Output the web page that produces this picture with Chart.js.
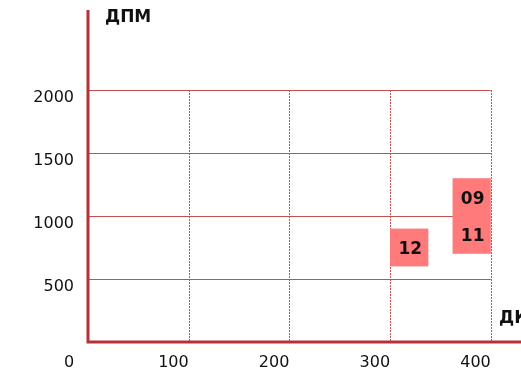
<!DOCTYPE html>
<html>
<head>
<meta charset="utf-8">
<script src="https://cdn.jsdelivr.net/npm/chart.js@4"></script>
<style>
  html, body { margin: 0; padding: 0; background: #fff; }
  #wrap { width: 521px; height: 382px; }
</style>
</head>
<body>
<div id="wrap"><canvas id="myChart" width="521" height="382"></canvas></div>
<script>
// 데이터
const xTicks = [0, 100, 200, 300, 400];
const yTicks = [500, 1000, 1500, 2000];
const boxLabels = ['12', '09', '11'];
const boxXFrom = [300, 362, 362];
const boxXTo = [338, 400, 400];
const boxYFrom = [600, 1000, 700];
const boxYTo = [900, 1300, 1000];
const yTitle = 'ДПМ';
const xTitle = 'ДКМ';

const axisColor = '#b83035';
const gridColor = '#c4504f';
const boxColor = '#ff7b7b';
const font = '"DejaVu Sans", Verdana, sans-serif';

// 그리드, 상자, 라벨 그리기
const drawPlugin = {
  id: 'drawPlugin',
  beforeDatasetsDraw(chart) {
    const c = chart.ctx;
    const x = chart.scales.x;
    const y = chart.scales.y;
    const x0 = x.getPixelForValue(0);
    const y0 = y.getPixelForValue(0);
    const xEnd = x.getPixelForValue(xTicks[xTicks.length - 1]);
    const yEnd = y.getPixelForValue(yTicks[yTicks.length - 1]);
    c.save();
    // 가로 그리드 (실선)
    c.strokeStyle = gridColor;
    c.lineWidth = 1;
    yTicks.forEach(v => {
      const py = Math.round(y.getPixelForValue(v)) + 0.5;
      c.beginPath();
      c.moveTo(x0, py);
      c.lineTo(xEnd, py);
      c.stroke();
    });
    // 세로 그리드 (점선)
    c.setLineDash([2, 1]);
    xTicks.slice(1).forEach(v => {
      const px = Math.round(x.getPixelForValue(v)) + 0.5;
      c.beginPath();
      c.moveTo(px, yEnd);
      c.lineTo(px, y0);
      c.stroke();
    });
    c.setLineDash([]);

    // 상자
    c.fillStyle = boxColor;
    boxLabels.forEach((lab, i) => {
      const l = x.getPixelForValue(boxXFrom[i]);
      const r = x.getPixelForValue(boxXTo[i]);
      const t = y.getPixelForValue(boxYTo[i]);
      const b = y.getPixelForValue(boxYFrom[i]);
      c.fillRect(l, t, r - l, b - t);
    });
    c.fillStyle = '#111';
    c.font = 'bold 17px ' + font;
    c.textAlign = 'center';
    c.textBaseline = 'middle';
    boxLabels.forEach((lab, i) => {
      const cx = x.getPixelForValue((boxXFrom[i] + boxXTo[i]) / 2);
      const cy = y.getPixelForValue((boxYFrom[i] + boxYTo[i]) / 2);
      c.fillText(lab, cx + 1, cy + 2);
    });

    // 축선
    c.strokeStyle = axisColor;
    c.lineWidth = 3;
    c.beginPath();
    c.moveTo(x0, chart.chartArea.top);
    c.lineTo(x0, y0);
    c.lineTo(chart.chartArea.right, y0);
    c.stroke();

    // 눈금 라벨
    c.fillStyle = '#111';
    c.font = '16px ' + font;
    c.textAlign = 'right';
    yTicks.forEach(v => {
      c.fillText(String(v), 74, y.getPixelForValue(v) + 8);
    });
    xTicks.forEach(v => {
      if (v === 0) return;
      c.fillText(String(v), x.getPixelForValue(v), y0 + 21);
    });
    c.textAlign = 'center';
    c.fillText('0', 69, y0 + 21);

    // 축 제목
    c.font = 'bold 17px ' + font;
    c.textAlign = 'left';
    c.fillText(yTitle, 105, 18);
    c.fillText(xTitle, 499, 319);
    c.restore();
  }
};

const ctx = document.getElementById('myChart').getContext('2d');
const myChart = new Chart(ctx, {
  type: 'scatter',
  data: {
    datasets: [{ data: [], pointRadius: 0 }]
  },
  options: {
    responsive: false,
    animation: false,
    layout: { padding: { left: 88, top: 10, right: 0, bottom: 40 } },
    plugins: { legend: { display: false }, tooltip: { enabled: false } },
    scales: {
      x: { type: 'linear', min: 0, max: 430, display: false },
      y: { type: 'linear', min: 0, max: 2635, display: false }
    }
  },
  plugins: [drawPlugin]
});
</script>
</body>
</html>
